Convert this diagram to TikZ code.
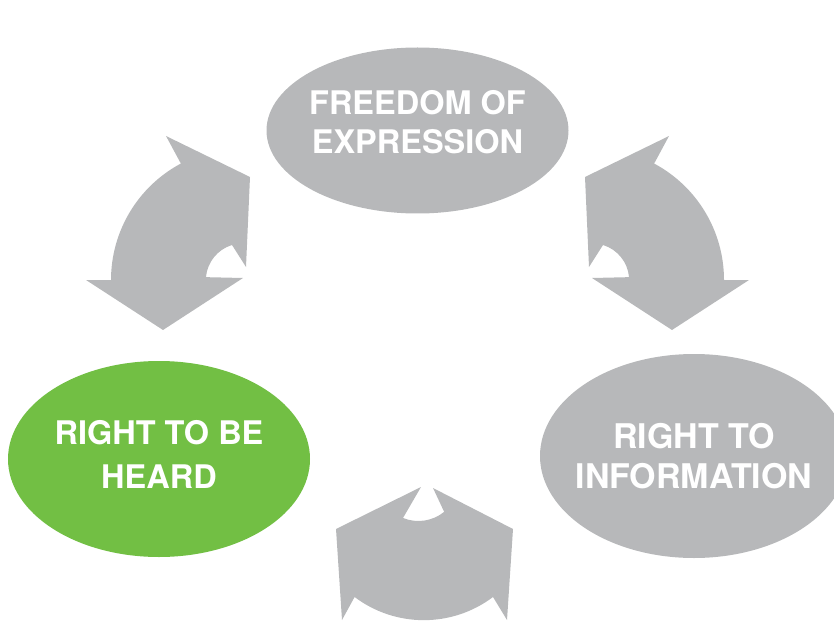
\documentclass[tikz,border=0pt]{standalone}
\usepackage{fontspec}
\setmainfont{TeX Gyre Heros}
\usetikzlibrary{positioning, shapes.geometric}
\definecolor{rightgrey}{HTML}{B7B8BA}
\definecolor{heardgreen}{HTML}{72BF44}

\begin{document}
\begin{tikzpicture}[x = 1pt, y = 1pt, on grid,
                    bubble/.style = {ellipse,
                                     fill = rightgrey,
                                     text = white,
                                     font = \bfseries\fontsize{32.5}{40}\selectfont,
                                     align = center,
                                     inner sep = -30pt,
                                     minimum width = 302pt,
                                     minimum height = 166pt},
                    heard/.style = {bubble,
                                    fill = heardgreen},
                    bent/.style = {fill = rightgrey}]

\useasboundingbox (0,0) rectangle (834,622);
\clip (0,0) rectangle (834,622);

\node[bubble, text depth = 18pt,
      font = \bfseries\fontsize{32.5}{39}\selectfont] (E) at (417.5,491.5) {FREEDOM OF\\EXPRESSION};
\node[heard, minimum height = 196pt, text depth = 9pt,
      font = \bfseries\fontsize{32.5}{44}\selectfont] (H) [below left = 328.5pt and 258.5pt of E] {RIGHT TO BE\\HEARD};
\node[bubble, minimum width = 308pt, minimum height = 204pt,
      font = \bfseries\fontsize{34}{40}\selectfont] (I) [below right = 325.5pt and 276.5pt of E] {RIGHT TO\\INFORMATION};

% curved arrows, left one mirrored to the right
\foreach \s/\o in {1/0, -1/835}
  \fill[bent, xshift = \o pt, xscale = \s]
    (180,460) -- (166,486) -- (250,445) -- (246,355) -- (232,377)
    arc[start angle = 107, end angle = 175, radius = 37pt]
    -- (243,344) -- (163,292) -- (86,342) -- (111,342)
    arc[start angle = 180, end angle = 118, radius = 132pt] -- cycle;

% bottom arrow, cut by the page
\fill[bent] (421,135) -- (403,104)
  arc[start angle = 248, end angle = 309, radius = 41pt]
  -- (433,134) -- (513,93) -- (507,2) -- (493,25)
  arc[start angle = 307, end angle = 233, radius = 115pt]
  -- (342,2) -- (336,93) -- cycle;

\end{tikzpicture}
\end{document}
